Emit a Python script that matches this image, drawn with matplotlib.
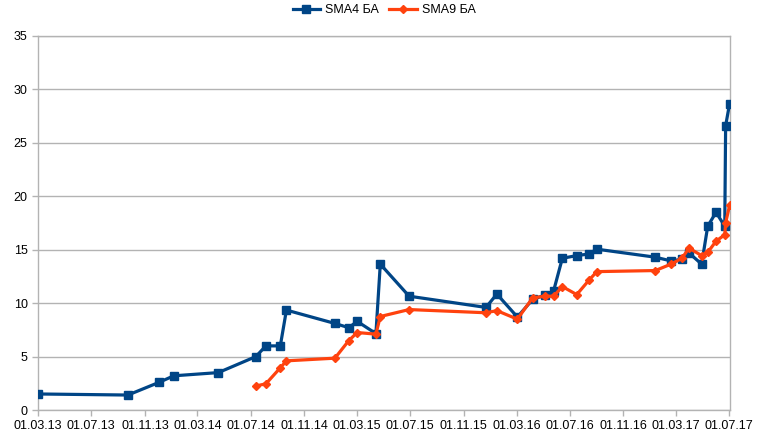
import numpy as np
import pandas as pd
import matplotlib
matplotlib.use("Agg")
import matplotlib.pyplot as plt
import matplotlib.dates as mdates

# dates shared by both series (dd.mm.yy)
dates = ["01.03.13", "23.09.13", "04.12.13", "06.01.14", "18.04.14",
         "13.07.14", "05.08.14", "07.09.14", "21.09.14", "10.01.15",
         "11.02.15", "02.03.15", "14.04.15", "24.04.15", "29.06.15",
         "22.12.15", "16.01.16", "03.03.16", "07.04.16", "05.05.16",
         "25.05.16", "14.06.16", "17.07.16", "14.08.16", "01.09.16",
         "13.01.17", "18.02.17", "15.03.17", "31.03.17", "29.04.17",
         "13.05.17", "01.06.17", "21.06.17", "23.06.17", "02.07.17"]

sma4 = [1.5, 1.4, 2.6, 3.2, 3.5,
        5.0, 6.0, 6.0, 9.35, 8.1,
        7.7, 8.3, 7.15, 13.65, 10.65,
        9.6, 10.85, 8.7, 10.35, 10.75,
        11.15, 14.2, 14.45, 14.6, 15.05,
        14.3, 13.95, 14.1, 14.7, 13.65,
        17.2, 18.5, 17.2, 26.6, 28.65]

nan = np.nan
sma9 = [nan, nan, nan, nan, nan,
        2.25, 2.45, 3.95, 4.6, 4.85,
        6.5, 7.25, 7.1, 8.75, 9.4,
        9.1, 9.3, 8.5, 10.5, 10.65,
        10.65, 11.55, 10.8, 12.15, 12.95,
        13.05, 13.65, 14.2, 15.15, 14.45,
        14.75, 15.8, 16.4, 17.5, 19.15]

x = pd.to_datetime(dates, format="%d.%m.%y")

plt.rcParams['font.family'] = ['Liberation Sans', 'DejaVu Sans']

fig = plt.figure(figsize=(7.6, 4.4), dpi=100)
ax = fig.add_axes([38 / 760, 30 / 440, 692 / 760, 374 / 440])

ax.plot(x, sma4, color="#004586", lw=2.3, marker="s", ms=5.5, label="SMA4 БА", zorder=3)
ax.plot(x, sma9, color="#ff420e", lw=2.3, marker="D", ms=4, label="SMA9 БА", zorder=4)

ax.set_ylim(0, 35)
ax.set_yticks(range(0, 36, 5))
ax.set_xlim(pd.Timestamp("2013-03-01"), pd.Timestamp("2017-07-03"))
ax.xaxis.set_major_locator(mdates.MonthLocator(bymonth=[3, 7, 11], bymonthday=1))
ax.xaxis.set_major_formatter(mdates.DateFormatter("%d.%m.%y"))

ax.grid(axis="y", color="#b3b3b3", lw=1)
ax.set_axisbelow(True)
for s in ax.spines.values():
    s.set_color("#b3b3b3")
    s.set_linewidth(1)
ax.tick_params(colors="#b3b3b3", labelcolor="black", labelsize=9, length=4, width=1)

ax.legend(loc="center", bbox_to_anchor=(0.5, 1 + 26 / 374), ncol=2, frameon=False,
          fontsize=9, handlelength=2.2, handletextpad=0.4, columnspacing=0.8,
          borderaxespad=0, borderpad=0)

fig.savefig("out.png", dpi=100)
